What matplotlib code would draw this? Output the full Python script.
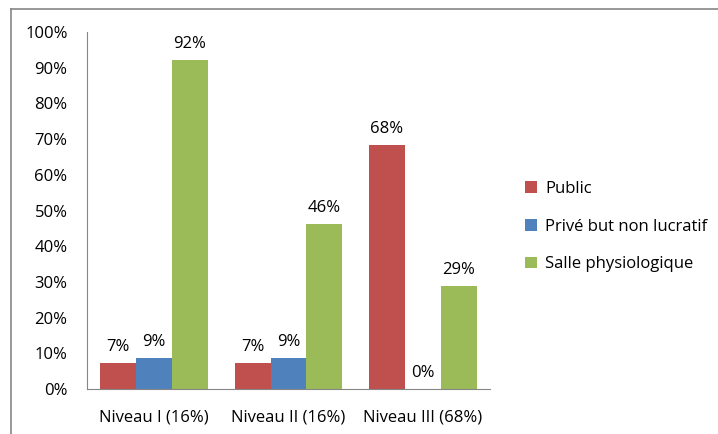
import numpy as np
import matplotlib
matplotlib.use("Agg")
from matplotlib import pyplot as plt
from matplotlib.lines import Line2D

plt.rcParams['font.family'] = ['Open Sans', 'DejaVu Sans']

categories = ["Niveau I (16%)", "Niveau II (16%)", "Niveau III (68%)"]
series = ["Public", "Privé but non lucratif", "Salle physiologique"]
public = [0.073, 0.073, 0.683]
prive = [0.086, 0.086, 0.0]
salle = [0.922, 0.462, 0.289]
labels = [["7%", "7%", "68%"], ["9%", "9%", "0%"], ["92%", "46%", "29%"]]
colors = ["#c0504d", "#4f81bd", "#9bbb59"]

fig = plt.figure(figsize=(7.18, 4.34), dpi=100)
ax = fig.add_axes([0.1212, 0.1037, 0.5613, 0.8223])

x = np.arange(len(categories))
w = 0.8 / 3
for i, (vals, col, name) in enumerate(zip([public, prive, salle], colors, series)):
    pos = x + (i - 1) * w
    ax.bar(pos, vals, width=w, color=col, label=name)
    for p, v, t in zip(pos, vals, labels[i]):
        ax.text(p, v + 0.022, t, ha="center", va="bottom", fontsize=12)

ax.set_xlim(-0.5, 2.5)
ax.set_ylim(0, 1)
ax.set_yticks(np.arange(0, 1.01, 0.1))
ax.set_yticklabels([f"{int(round(v * 100))}%" for v in np.arange(0, 1.01, 0.1)], fontsize=12)
ax.set_xticks(x)
ax.set_xticklabels(categories, fontsize=12)
ax.tick_params(axis="y", length=0, pad=14)
ax.tick_params(axis="x", length=0, pad=15)
for s in ["top", "right"]:
    ax.spines[s].set_visible(False)
for s in ["left", "bottom"]:
    ax.spines[s].set_color("#868686")

ax.legend(loc="center left", bbox_to_anchor=(1.05, 0.455), frameon=False,
          fontsize=12, handlelength=0.7, handleheight=0.7, labelspacing=1.3,
          handletextpad=0.5)

# outer chart border
fig.add_artist(Line2D([11 / 718, 11 / 718], [0, 1 - 9 / 434], color="#868686", lw=1.2))
fig.add_artist(Line2D([11 / 718, 1], [1 - 9 / 434, 1 - 9 / 434], color="#868686", lw=1.2))

fig.savefig("out.png", dpi=100)
